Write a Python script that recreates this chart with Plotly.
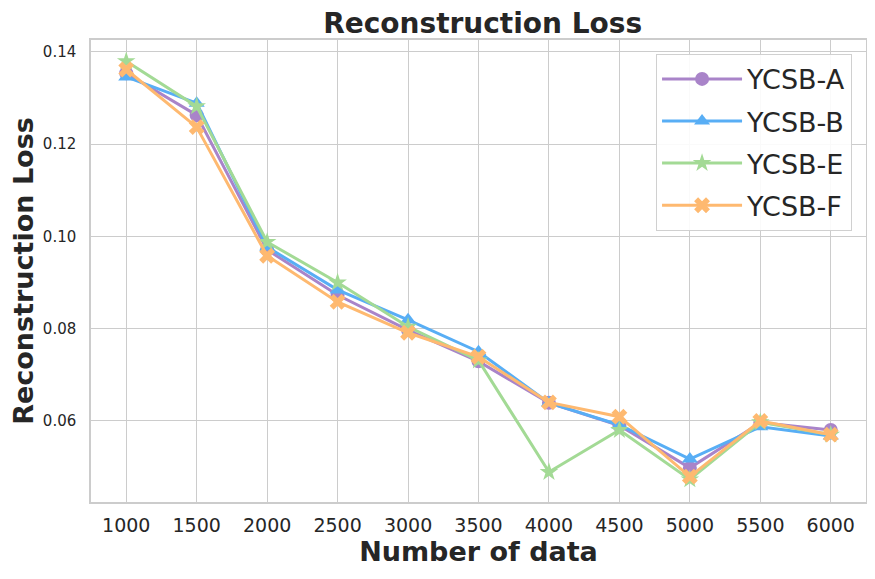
import plotly.graph_objects as go

x_vals = [1000, 1500, 2000, 2500, 3000, 3500, 4000, 4500, 5000, 5500, 6000]
ycsb_a = [0.1354, 0.1263, 0.0971, 0.0873, 0.0797, 0.0729, 0.0639, 0.0590, 0.0498, 0.0596, 0.0580]
ycsb_b = [0.1346, 0.1289, 0.0977, 0.0884, 0.0819, 0.0750, 0.0639, 0.0591, 0.0517, 0.0587, 0.0567]
ycsb_e = [0.1380, 0.1282, 0.0988, 0.0900, 0.0804, 0.0731, 0.0489, 0.0580, 0.0473, 0.0597, 0.0570]
ycsb_f = [0.1362, 0.1237, 0.0958, 0.0858, 0.0791, 0.0739, 0.0640, 0.0609, 0.0479, 0.0600, 0.0570]

series = [
    ("YCSB-A", ycsb_a, "#a984c9", "circle"),
    ("YCSB-B", ycsb_b, "#58aef5", "triangle-up"),
    ("YCSB-E", ycsb_e, "#a3da95", "star"),
    ("YCSB-F", ycsb_f, "#feb970", "x"),
]

fig = go.Figure()
for name, vals, color, sym in series:
    fig.add_trace(go.Scatter(
        x=x_vals, y=vals, name=name, mode="lines+markers", legendgroup=name,
        line=dict(color=color, width=3),
        marker=dict(symbol=sym, size=14, color=color, line=dict(width=0)),
    ))

# page body has an 8px margin; figure is sized so it fills the 875x579 window
font_family = "DejaVu Sans"
fig.update_layout(
    width=867, height=571,
    margin=dict(l=83, r=9, t=32, b=77),
    paper_bgcolor="white", plot_bgcolor="white",
    font=dict(family=font_family, color="#262626"),
    title=dict(text="<b>Reconstruction Loss</b>", x=0.5475, xanchor="center",
               y=1 - 15 / 571, yanchor="middle", yref="container",
               font=dict(size=28, color="#262626")),
    xaxis=dict(
        range=[750, 6250], tickvals=x_vals, ticktext=[str(v) for v in x_vals],
        tickfont=dict(size=19), showgrid=True, gridcolor="#cccccc", gridwidth=1,
        showline=True, linecolor="#cccccc", linewidth=1.5, mirror=True,
        zeroline=False, ticks="outside", ticklen=5, tickcolor="rgba(0,0,0,0)",
        automargin=False,
        title=dict(text="<b>Number of data</b>", font=dict(size=27), standoff=7),
    ),
    yaxis=dict(
        range=[0.0424, 0.1426], tickvals=[0.06, 0.08, 0.10, 0.12, 0.14],
        ticktext=["0.06", "0.08", "0.10", "0.12", "0.14"],
        tickfont=dict(size=15), showgrid=True, gridcolor="#cccccc", gridwidth=1,
        showline=True, linecolor="#cccccc", linewidth=1.5, mirror=True,
        zeroline=False, ticks="outside", ticklen=10, tickcolor="rgba(0,0,0,0)",
        automargin=False,
        title=dict(text="<b>Reconstruction Loss</b>", font=dict(size=27), standoff=3),
    ),
    legend=dict(
        x=0.982, y=0.97, xanchor="right", yanchor="top",
        bgcolor="rgba(255,255,255,0.9)", bordercolor="#d0d0d0", borderwidth=1,
        font=dict(size=27, color="#262626"), itemwidth=80,
        traceorder="grouped", tracegroupgap=4,
    ),
)

fig.write_html("out.html")
